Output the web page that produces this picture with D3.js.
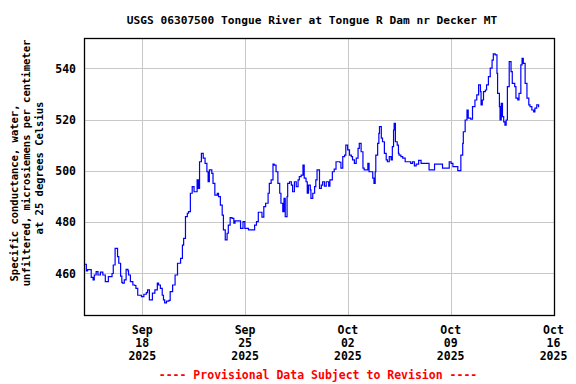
<!DOCTYPE html>
<html>
<head>
<meta charset="utf-8">
<script src="https://cdn.jsdelivr.net/npm/d3@7"></script>
<style>
  body { margin: 0; background: #fff; }
  text { font-family: "DejaVu Sans Mono", monospace; font-weight: bold; }
</style>
</head>
<body>
<svg id="chart" width="576" height="384"></svg>
<script>
// hours after 2025-09-14 00:00 and specific conductance (uS/cm)
var hours = [0,3,5,8,11,14,16,19,22,26,30,33,34,37,39,42,45,47,50,53,54,56,59,61,62,65,68,71,72,75,79,82,84,87,93,97,101,103,106,109,111,115,119,121,124,127,
  129,131,134,138,140,144,148,152,157,160,162,165,168,170,173,176,179,184,186,188,191,194,197,200,202,204,208,210,213,217,219,222,225,227,230,233,235,238,241,244,246,253,
  255,259,262,264,268,275,278,281,284,289,290,293,296,300,302,305,308,310,313,316,319,321,324,326,328,331,332,335,338,340,343,346,349,351,354,357,359,362,364,366,369,370,373,376,378,380,383,
  384,387,389,392,395,399,401,405,408,411,417,419,422,425,427,430,433,436,438,441,444,447,449,452,455,457,460,463,465,468,471,473,475,476,479,481,482,485,487,490,493,495,498,501,503,505,506,508,511,513,
  514,517,520,524,531,533,536,539,542,546,550,555,561,563,569,572,582,585,593,596,599,602,607,610,612,615,618,619,622,625,627,631,634,638,
  641,644,647,648,650,652,655,657,660,663,666,668,671,674,675,678,679,681,683,685,687,689,691,694,697,699,703,705,708,710,713,715,717,720,723,726,728,731,734,736,739,742];
var values = [463.6,461,461.5,461.5,458.5,457.5,459.4,460.7,459.4,460.5,459.4,459.4,456.8,456.8,458.8,458.8,460,463.3,469.8,469.8,466.6,464,459,456.5,456.2,457.5,461.6,461,459.4,456.8,455.5,455.3,454.2,451.5,451,451.9,452.5,453.6,449.7,449.7,452.3,453.6,456.2,455.5,454.2,451.5,
  449.7,448.5,449.2,449.5,452.9,455.5,459.4,464,465.9,471.1,473.7,482.2,483.5,484.1,491.3,493.9,491.9,496.5,493.2,503.6,506.9,505,503,499.7,495.8,500.4,499.1,495.2,490.6,491.3,490,486.7,482.8,477,473.1,475.7,478.9,481.8,481.5,479.6,480.5,480.5,
  477.6,480.2,477.6,477.6,477,477,478.9,480.2,483.9,483.9,482,486.1,487.4,491.3,495.2,496.5,502.7,502.3,499.7,495.2,491.3,487.4,484.1,489.3,482.2,490,495.2,495.8,494.5,491.9,495.8,493.9,496.5,497.8,498.4,502.3,497.2,495.8,491.3,494.5,492.6,489.3,491.3,493.9,496.5,500.4,500.4,
  493.2,494.5,495.8,494.1,495.8,494.1,496.5,499.7,500.7,503.6,503.4,501.1,505.6,506.2,510.1,508.2,506.2,505.6,504.3,503,505,508.8,510.8,507.5,501.1,500.4,500.4,503,499.7,499.7,497.2,495.2,499.7,506.2,510.8,514.7,517.3,512.8,511.4,506.9,504.3,503.6,505.6,504.3,509.5,516,518.6,511.4,510.1,506.9,
  506.2,505.6,505,503.6,503.6,503,503.6,502,502.7,504.1,503,503,503,500.4,500.4,502.7,502.7,501.1,501.1,503.6,503,501.7,501.7,500.1,500.1,506.2,510.8,515.3,519.9,523.8,520.6,520.2,525.1,527.7,
  529.7,533.6,531,525.8,527.7,531,531.6,533.6,536.8,540.1,543.3,545.7,545.3,538.1,530.3,525.1,519.9,526.4,521.2,519.2,517.9,519.9,532.9,542.7,538.8,534.2,532.9,528.4,527.7,530.3,541.4,544,542,534.2,528.4,525.8,525.1,523.8,523.1,524.5,525.8,524.9];

var yTicks = [460, 480, 500, 520, 540];
var xTickDates = ["2025-09-18", "2025-09-25", "2025-10-02", "2025-10-09", "2025-10-16"];
var xTickMonths = ["Sep", "Sep", "Oct", "Oct", "Oct"];
var xTickDays = ["18", "25", "02", "09", "16"];
var xTickYears = ["2025", "2025", "2025", "2025", "2025"];

var start = new Date(2025, 8, 14, 0, 0);
var data = hours.map(function(h, i) {
  return { t: new Date(start.getTime() + h * 3600e3), v: values[i] };
});

var svg = d3.select("#chart");
var pLeft = 84.5, pRight = 554.5, pTop = 38.5, pBottom = 315.5;

var x = d3.scaleTime()
  .domain([start, new Date(2025, 9, 16, 0, 0)])
  .range([pLeft, pRight]);
var y = d3.scaleLinear()
  .domain([443.6, 551.7])
  .range([pBottom, pTop]);

// grid
svg.append("g").selectAll("line").data(yTicks).enter().append("line")
  .attr("x1", pLeft).attr("x2", pRight)
  .attr("y1", function(d){ return Math.round(y(d)) + 0.5; })
  .attr("y2", function(d){ return Math.round(y(d)) + 0.5; })
  .attr("stroke", "#c8c8c8").attr("stroke-width", 1);

var parse = d3.timeParse("%Y-%m-%d");
svg.append("g").selectAll("line").data(xTickDates).enter().append("line")
  .attr("x1", function(d){ return Math.round(x(parse(d))) - 0.5; })
  .attr("x2", function(d){ return Math.round(x(parse(d))) - 0.5; })
  .attr("y1", pTop).attr("y2", pBottom)
  .attr("stroke", "#c8c8c8").attr("stroke-width", 1);

// series
var line = d3.line()
  .x(function(d){ return x(d.t); })
  .y(function(d){ return y(d.v); })
  .curve(d3.curveStepAfter);
svg.append("path").datum(data)
  .attr("d", line)
  .attr("fill", "none")
  .attr("stroke", "#0000ff")
  .attr("stroke-width", 1.2);

// frame
svg.append("rect")
  .attr("x", pLeft).attr("y", pTop)
  .attr("width", pRight - pLeft).attr("height", pBottom - pTop)
  .attr("fill", "none").attr("stroke", "#000").attr("stroke-width", 1.3);

// y tick labels
svg.append("g").selectAll("text").data(yTicks).enter().append("text")
  .attr("x", 76).attr("y", function(d){ return y(d); })
  .attr("dy", "0.36em")
  .attr("text-anchor", "end")
  .attr("font-size", 11.5)
  .text(function(d){ return d; });

// x tick labels, three lines each
var xl = svg.append("g").selectAll("g").data(xTickDates).enter().append("g");
[xTickMonths, xTickDays, xTickYears].forEach(function(arr, row) {
  xl.append("text")
    .attr("x", function(d){ return x(parse(d)) - 1; })
    .attr("y", 334 + row * 13)
    .attr("text-anchor", "middle")
    .attr("font-size", 11.5)
    .text(function(d, i){ return arr[i]; });
});

// title
svg.append("text")
  .attr("x", 312).attr("y", 24)
  .attr("text-anchor", "middle")
  .attr("font-size", 11.2)
  .text("USGS 06307500 Tongue River at Tongue R Dam nr Decker MT");

// y axis title
var ylab = ["Specific conductance, water,", "unfiltered, microsiemens per centimeter", "at 25 degrees Celsius"];
var ylabMid = [193, 163, 168];
svg.append("g").selectAll("text").data(ylab).enter().append("text")
  .attr("transform", function(d, i){ return "translate(" + (17.5 + i * 12.5) + "," + ylabMid[i] + ") rotate(-90)"; })
  .attr("text-anchor", "middle")
  .attr("font-size", 10.5)
  .text(function(d){ return d; });

// footer
svg.append("text")
  .attr("x", 318).attr("y", 379)
  .attr("text-anchor", "middle")
  .attr("font-size", 11.5)
  .attr("fill", "#ff0000")
  .text("---- Provisional Data Subject to Revision ----");
</script>
</body>
</html>
